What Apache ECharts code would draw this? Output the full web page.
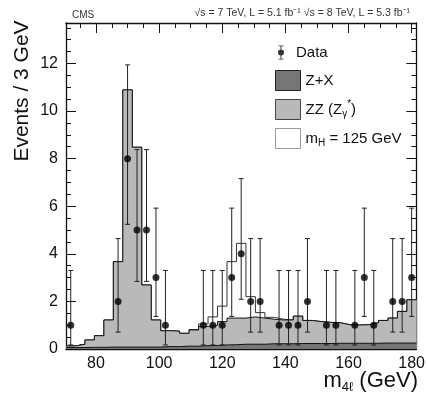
<!DOCTYPE html>
<html>
<head>
<meta charset="utf-8">
<script src="https://cdn.jsdelivr.net/npm/echarts@6/dist/echarts.min.js"></script>
<style>
  html, body { margin: 0; padding: 0; background: #fff; }
  #chart { width: 428px; height: 403px; }
</style>
</head>
<body>
<div id="chart"></div>
<script>
// Histogram bins (3 GeV wide, low edges)
const binLow = [70.5, 73.5, 76.5, 79.5, 82.5, 85.5, 88.5, 91.5, 94.5, 97.5, 100.5, 103.5,
  106.5, 109.5, 112.5, 115.5, 118.5, 121.5, 124.5, 127.5, 130.5, 133.5, 136.5, 139.5,
  142.5, 145.5, 148.5, 151.5, 154.5, 157.5, 160.5, 163.5, 166.5, 169.5, 172.5, 175.5, 178.5];
const binHigh = 181.5;

// Z+X (bottom of stack)
const zxVals = [0.06, 0.06, 0.07, 0.07, 0.08, 0.08, 0.08, 0.08, 0.08, 0.08, 0.1, 0.1,
  0.12, 0.12, 0.14, 0.15, 0.17, 0.18, 0.2, 0.2, 0.2, 0.22, 0.22, 0.22,
  0.23, 0.23, 0.23, 0.23, 0.24, 0.24, 0.24, 0.24, 0.24, 0.25, 0.25, 0.25, 0.25];
// ZZ (Z gamma*)
const zzVals = [0.07, 0.14, 0.31, 0.49, 1.14, 3.59, 10.81, 8.4, 2.61, 1.14, 0.67, 0.65,
  0.54, 0.68, 0.81, 0.85, 0.98, 1.12, 1.1, 1.15, 1.1, 1.03, 1.0, 1.0,
  1.15, 0.97, 0.92, 0.89, 0.86, 0.78, 0.77, 0.78, 0.86, 0.95, 1.05, 1.33, 1.82];
// mH = 125 GeV signal
const sigVals = [0, 0, 0, 0, 0, 0, 0, 0, 0, 0, 0, 0,
  0, 0.02, 0.1, 0.35, 0.65, 2.37, 3.14, 0.85, 0.23, 0.08, 0.03, 0,
  0, 0, 0, 0, 0, 0, 0, 0, 0, 0, 0, 0, 0];

// Data points
const dataX = [72, 87, 90, 93, 96, 99, 102, 114, 117, 120, 123, 126, 129, 132,
  138, 141, 144, 147, 153, 156, 162, 165, 168, 174, 177, 180];
const counts = [1, 2, 8, 5, 5, 3, 1, 1, 1, 1, 3, 4, 2, 2,
  1, 1, 1, 2, 1, 1, 1, 3, 1, 2, 2, 3];
const errLow = [0.17, 0.71, 5.24, 2.84, 2.84, 1.37, 0.17, 0.17, 0.17, 0.17, 1.37, 2.09, 0.71, 0.71,
  0.17, 0.17, 0.17, 0.71, 0.17, 0.17, 0.17, 1.37, 0.17, 0.71, 0.71, 1.37];
const errHigh = [3.3, 4.64, 11.94, 8.38, 8.38, 5.92, 3.3, 3.3, 3.3, 3.3, 5.92, 7.16, 4.64, 4.64,
  3.3, 3.3, 3.3, 4.64, 3.3, 3.3, 3.3, 5.92, 3.3, 4.64, 4.64, 5.92];

// Ticks
const xMajor = [80, 100, 120, 140, 160, 180];
const xMinor = [75, 85, 90, 95, 105, 110, 115, 125, 130, 135, 145, 150, 155, 165, 170, 175];
const yMajor = [0, 2, 4, 6, 8, 10, 12];
const yMinor = [0.5, 1, 1.5, 2.5, 3, 3.5, 4.5, 5, 5.5, 6.5, 7, 7.5, 8.5, 9, 9.5,
  10.5, 11, 11.5, 12.5, 13, 13.5];

const FONT = "'Liberation Sans', Arial, Helvetica, sans-serif";
const axisColor = "#111";

// stacked totals (drawn back to front, each area filled from zero)
const bgTotal = zxVals.map((v, i) => v + zzVals[i]);
const sigTotal = bgTotal.map((v, i) => v + sigVals[i]);

function stepData(vals) {
  const d = binLow.map((x, i) => [x, vals[i]]);
  d.push([binHigh, vals[vals.length - 1]]);
  return d;
}

function xAx(pos, ticks, len, showLine, showLabel) {
  return {
    type: "value", position: pos, min: 70.5, max: 181.5,
    axisLine: { show: showLine, onZero: false, lineStyle: { color: axisColor, width: 1.3 } },
    axisTick: { show: true, inside: true, length: len, customValues: ticks,
      lineStyle: { color: axisColor, width: 1 } },
    axisLabel: { show: showLabel, customValues: xMajor, fontSize: 16, color: "#111",
      fontFamily: FONT, margin: 7 },
    splitLine: { show: false },
  };
}
function yAx(pos, ticks, len, showLine, showLabel) {
  return {
    type: "value", position: pos, min: 0, max: 13.7,
    axisLine: { show: showLine, onZero: false, lineStyle: { color: axisColor, width: 1.3 } },
    axisTick: { show: true, inside: true, length: len, customValues: ticks,
      lineStyle: { color: axisColor, width: 1 } },
    axisLabel: { show: showLabel, customValues: yMajor, fontSize: 16, color: "#111",
      fontFamily: FONT, margin: 8 },
    splitLine: { show: false },
  };
}

function histSeries(name, vals, fill, stroke, z) {
  return {
    name: name, type: "line", step: "end", symbol: "none",
    data: stepData(vals),
    lineStyle: { color: stroke, width: 1 },
    itemStyle: { color: fill },
    areaStyle: { color: fill, opacity: 1 },
    emphasis: { disabled: true }, z: z,
  };
}

const chart = echarts.init(document.getElementById("chart"), null, { renderer: "canvas" });

const dataIcon = "path://M4.5,0H5.5V14H4.5Z M2.5,0H7.5V0.8H2.5Z M2.5,13.2H7.5V14H2.5Z M2,7A3,3 0 1 1 8,7A3,3 0 1 1 2,7Z";

const option = {
  animation: false,
  backgroundColor: "#fff",
  grid: { left: 66, right: 10, top: 23, bottom: 54 },
  xAxis: [
    xAx("bottom", xMajor, 10, true, true),
    xAx("bottom", xMinor, 5, false, false),
    xAx("top", xMajor, 10, true, false),
    xAx("top", xMinor, 5, false, false),
  ],
  yAxis: [
    yAx("left", yMajor, 10, true, true),
    yAx("left", yMinor, 5, false, false),
    yAx("right", yMajor, 10, true, false),
    yAx("right", yMinor, 5, false, false),
  ],
  legend: [
    {
      data: [{ name: "Data", icon: dataIcon, itemStyle: { color: "#000", borderWidth: 0 } }],
      left: 278, top: 45, itemWidth: 20, itemHeight: 14, padding: 0,
      selectedMode: false,
      textStyle: { fontSize: 15, color: "#111", fontFamily: FONT },
    },
    {
      data: [
        { name: "Z+X", icon: "rect", itemStyle: { color: "#767676", borderColor: "#222", borderWidth: 1 } },
        { name: "ZZ", icon: "rect", itemStyle: { color: "#b9b9b9", borderColor: "#444", borderWidth: 1 } },
        { name: "mH", icon: "rect", itemStyle: { color: "#fff", borderColor: "#999", borderWidth: 1 } },
      ],
      orient: "vertical", left: 275, top: 70, itemWidth: 25, itemHeight: 20, itemGap: 8,
      padding: 0, selectedMode: false,
      formatter: function (name) {
        if (name === "ZZ") return "{a|ZZ (Z}{sub|γ}{sup|*}{a|)}";
        if (name === "mH") return "{a|m}{sub|H}{a| = 125 GeV}";
        return "{a|" + name + "}";
      },
      textStyle: {
        color: "#111", fontFamily: FONT,
        rich: {
          a: { fontSize: 15, lineHeight: 20, color: "#111", fontFamily: FONT },
          sub: { fontSize: 10, lineHeight: 10, verticalAlign: "bottom", color: "#111", fontFamily: FONT },
          sup: { fontSize: 10, lineHeight: 12, verticalAlign: "top", color: "#111", fontFamily: FONT },
        },
      },
    },
  ],
  graphic: [
    { type: "text", left: 72, top: 10,
      style: { text: "CMS", fontSize: 10, fill: "#333", fontFamily: FONT } },
    { type: "text", right: 18, top: 8,
      style: { text: "√s = 7 TeV, L = 5.1 fb⁻¹ √s = 8 TeV, L = 5.3 fb⁻¹", fontSize: 10.5,
        fill: "#333", fontFamily: FONT } },
    { type: "text", x: 22, y: 91, rotation: Math.PI / 2,
      style: { text: "Events / 3 GeV", fontSize: 21, fill: "#111", fontFamily: FONT,
        align: "center", verticalAlign: "middle" } },
    { type: "text", x: 418, y: 381,
      style: { text: "{m|m}{s|4ℓ}{m| (GeV)}", align: "right", verticalAlign: "middle",
        rich: {
          m: { fontSize: 22, lineHeight: 26, fill: "#111", fontFamily: FONT },
          s: { fontSize: 13, lineHeight: 13, verticalAlign: "bottom", fill: "#111", fontFamily: FONT },
        } } },
  ],
  series: [
    histSeries("mH", sigTotal, "#ffffff", "#333", 2),
    histSeries("ZZ", bgTotal, "#b9b9b9", "#111", 3),
    histSeries("Z+X", zxVals, "#767676", "#111", 4),
    {
      name: "err", type: "custom",
      data: dataX.map((x, i) => [x, errLow[i], errHigh[i]]),
      encode: { x: 0, y: [1, 2] },
      renderItem: function (params, api) {
        const hi = api.coord([api.value(0), api.value(2)]);
        const lo = api.coord([api.value(0), api.value(1)]);
        const cap = 2.5;
        const st = { stroke: "#222", lineWidth: 1 };
        return {
          type: "group",
          children: [
            { type: "line", shape: { x1: hi[0], y1: hi[1], x2: lo[0], y2: lo[1] }, style: st },
            { type: "line", shape: { x1: hi[0] - cap, y1: hi[1], x2: hi[0] + cap, y2: hi[1] }, style: st },
            { type: "line", shape: { x1: lo[0] - cap, y1: lo[1], x2: lo[0] + cap, y2: lo[1] }, style: st },
          ],
        };
      },
      z: 5,
    },
    {
      name: "Data", type: "scatter", symbol: "circle", symbolSize: 7,
      data: dataX.map((x, i) => [x, counts[i]]),
      itemStyle: { color: "#000" },
      emphasis: { disabled: true }, z: 6,
    },
  ],
};

chart.setOption(option);
</script>
</body>
</html>
